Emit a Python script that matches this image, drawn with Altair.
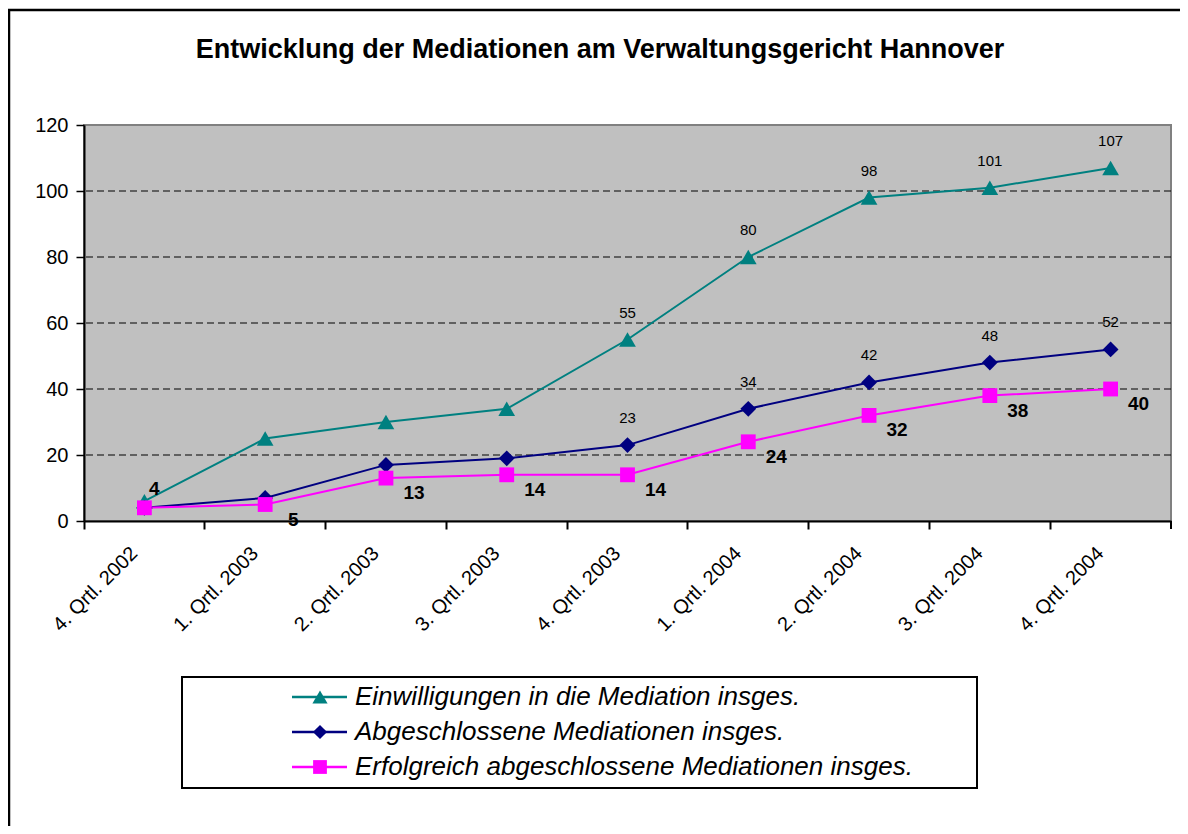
import altair as alt
import pandas as pd

quarters = ["4. Qrtl. 2002", "1. Qrtl. 2003", "2. Qrtl. 2003", "3. Qrtl. 2003",
            "4. Qrtl. 2003", "1. Qrtl. 2004", "2. Qrtl. 2004", "3. Qrtl. 2004",
            "4. Qrtl. 2004"]
series_names = ["Einwilligungen in die Mediation insges.",
                "Abgeschlossene Mediationen insges.",
                "Erfolgreich abgeschlossene Mediationen insges."]
einwilligungen = [6, 25, 30, 34, 55, 80, 98, 101, 107]
abgeschlossen = [4, 7, 17, 19, 23, 34, 42, 48, 52]
erfolgreich = [4, 5, 13, 14, 14, 24, 32, 38, 40]
y_ticks = [0, 20, 40, 60, 80, 100, 120]
grid_values = [20, 40, 60, 80, 100]
title_text = "Entwicklung der Mediationen am Verwaltungsgericht Hannover"

colors = ["#008080", "#000080", "#FF00FF"]
shapes = ["triangle-up", "diamond", "square"]
sizes = [280, 220, 260]
legend_sizes = [230, 200, 190]

rows = []
for s, vals in zip(series_names, [einwilligungen, abgeschlossen, erfolgreich]):
    for i, (q, v) in enumerate(zip(quarters, vals)):
        rows.append({"series": s, "quarter": q, "idx": i, "value": v})
df = pd.DataFrame(rows)

W, H = 1087, 396
FONT = "Liberation Sans"

x_enc = alt.X("quarter:N", sort=quarters, bandPosition=0.5,
              scale=alt.Scale(type="band", paddingInner=0, paddingOuter=0),
              axis=alt.Axis(title=None, labelAngle=-45, labelAlign="right",
                            labelBaseline="middle", labelFontSize=20, labelFont=FONT,
                            labelColor="black", labelPadding=21, labelOffset=-10,
                            tickSize=8, tickColor="black", tickWidth=2,
                            domainColor="black", domainWidth=2, bandPosition=0,
                            grid=False))
y_axis = alt.Axis(title=None, values=y_ticks, labelFontSize=20, labelFont=FONT,
                  labelColor="black", labelPadding=8, tickSize=8, tickColor="black",
                  tickWidth=1.5, domainColor="black", domainWidth=2, grid=False)
y_scale = alt.Scale(domain=[0, 120], nice=False)
y_enc = alt.Y("value:Q", scale=y_scale, axis=y_axis)
color_enc = alt.Color("series:N", scale=alt.Scale(domain=series_names, range=colors), legend=None)

base = alt.Chart(df)

grid = alt.Chart(pd.DataFrame({"v": grid_values})).mark_rule(
    color="black", strokeWidth=1, strokeDash=[7, 4]).encode(
    y=alt.Y("v:Q", scale=y_scale, axis=y_axis))

lines = base.mark_line(strokeWidth=2).encode(x=x_enc, y=y_enc, color=color_enc, detail="series:N")

points = base.mark_point(filled=True, opacity=1).encode(
    x=x_enc, y=y_enc, color=color_enc,
    shape=alt.Shape("series:N", scale=alt.Scale(domain=series_names, range=shapes), legend=None),
    size=alt.Size("series:N", scale=alt.Scale(domain=series_names, range=sizes), legend=None))

pink = series_names[2]
top_labels = base.transform_filter(
    f"datum.series != '{pink}' && datum.idx >= 4").mark_text(
    dy=-27, fontSize=15, font=FONT, color="black").encode(
    x=x_enc, y=y_enc, text="value:Q")

pink_labels = base.transform_filter(
    f"datum.series == '{pink}' && datum.idx >= 1").mark_text(
    dx=28, dy=15, fontSize=19, font=FONT, fontWeight="bold", color="black").encode(
    x=x_enc, y=y_enc, text="value:Q")

pink_first = base.transform_filter(
    f"datum.series == '{pink}' && datum.idx == 0").mark_text(
    dx=10, dy=-19, fontSize=19, font=FONT, fontWeight="bold", color="black").encode(
    x=x_enc, y=y_enc, text="value:Q")

one = pd.DataFrame({"a": [0]})
last_tick = alt.Chart(one).mark_rule(color="black", strokeWidth=2).encode(
    x=alt.value(W), y=alt.value(H), y2=alt.value(H + 8))

frame_left = alt.Chart(one).mark_rule(color="black", strokeWidth=2.5).encode(
    x=alt.value(-75), y=alt.value(-116), y2=alt.value(H + 330))
frame_top = alt.Chart(one).mark_rule(color="black", strokeWidth=2.5).encode(
    x=alt.value(-76), x2=alt.value(W + 30), y=alt.value(-115))

title = alt.Chart(pd.DataFrame({"t": [title_text]})).mark_text(
    font=FONT, fontSize=27, fontWeight="bold", color="black",
    align="center", baseline="alphabetic").encode(
    x=alt.value(516), y=alt.value(-67), text="t:N")

legend_box = alt.Chart(one).mark_rect(fill="white", stroke="black", strokeWidth=2).encode(
    x=alt.value(98), x2=alt.value(893), y=alt.value(552), y2=alt.value(663))

legend_layers = [legend_box]
for i, name in enumerate(series_names):
    ypx = 572 + 35 * i
    d = pd.DataFrame({"name": [name]})
    legend_layers.append(alt.Chart(d).mark_rule(color=colors[i], strokeWidth=2.5).encode(
        x=alt.value(208), x2=alt.value(263), y=alt.value(ypx)))
    legend_layers.append(alt.Chart(d).mark_point(
        filled=True, opacity=1, shape=shapes[i], size=legend_sizes[i], color=colors[i]).encode(
        x=alt.value(236), y=alt.value(ypx)))
    legend_layers.append(alt.Chart(d).mark_text(
        align="left", baseline="middle", font=FONT, fontSize=26, fontStyle="italic",
        color="black").encode(x=alt.value(271), y=alt.value(ypx), text="name:N"))

chart = alt.layer(
    grid, lines, points, top_labels, pink_labels, pink_first, last_tick,
    frame_left, frame_top, title, *legend_layers
).properties(
    width=W, height=H,
    autosize=alt.AutoSizeParams(type="none"),
    padding={"left": 76, "top": 117, "right": 9, "bottom": 305},
).configure_view(
    fill="#C0C0C0", stroke="#808080", strokeWidth=2
)

chart.save("out.html", embed_options={"renderer": "svg", "actions": False})
